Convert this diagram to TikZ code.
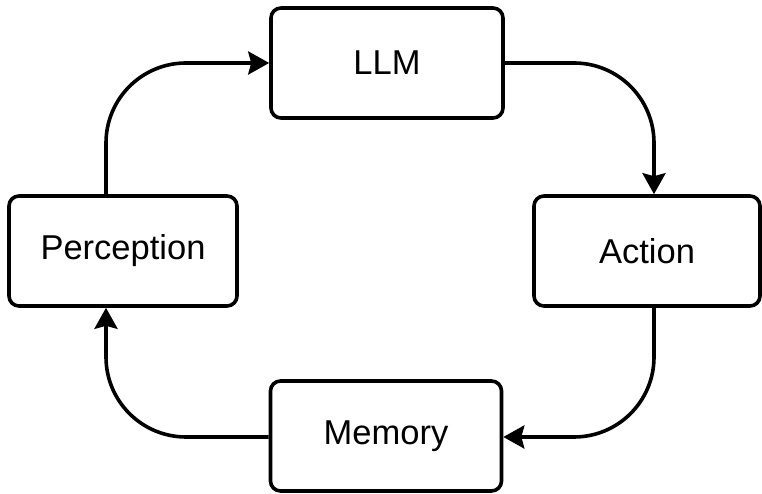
\documentclass[tikz,border=0pt]{standalone}
\usepackage{fontspec}
\setmainfont{Liberation Sans}
\usetikzlibrary{arrows.meta}
\begin{document}
\begin{tikzpicture}[x=1pt,y=1pt,
  box/.style={draw=black, line width=3.6pt, rounded corners=10pt, fill=white,
    minimum height=110pt, inner sep=0pt, font=\fontsize{34.5}{40}\selectfont},
  flow/.style={line width=3.6pt, rounded corners=80pt,
    -{Stealth[length=21pt,width=23pt,inset=3pt]}}]
\useasboundingbox (0,0) rectangle (762,494);
\node[box, minimum width=232pt] (L) at (387,431) {LLM};
\node[box, minimum width=228pt] (P) at (123,243) {Perception};
\node[box, minimum width=226pt] (A) at (647,243) {Action};
\node[box, minimum width=231pt] (M) at (386,58) {Memory};
\draw[flow] ([xshift=-17pt]P.north) |- (L.west);
\draw[flow] (L.east) -| ([xshift=7pt]A.north);
\draw[flow] ([xshift=7pt]A.south) |- ([yshift=-1pt]M.east);
\draw[flow] ([yshift=-1pt]M.west) -| ([xshift=-17pt]P.south);
\end{tikzpicture}
\end{document}
